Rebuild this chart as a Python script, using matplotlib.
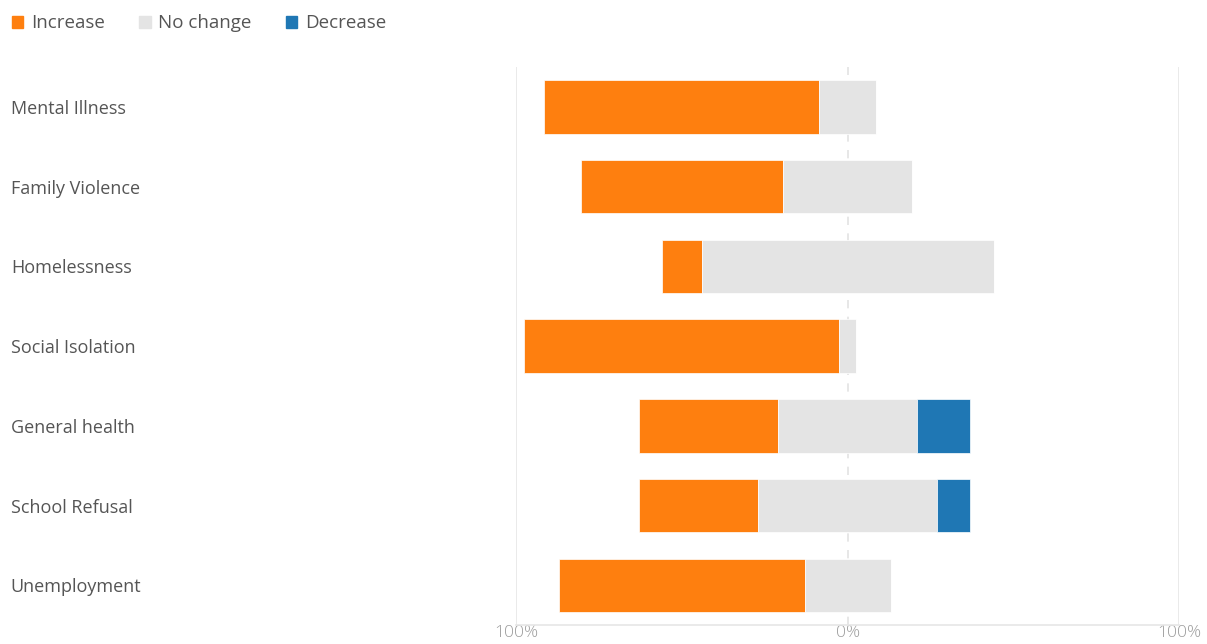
import matplotlib.pyplot as plt
import matplotlib.transforms as mtransforms
from matplotlib.patches import Patch
import numpy as np

plt.rcParams['font.family'] = ['Open Sans', 'DejaVu Sans']

# survey answers, percent of respondents
categories = ['Mental Illness', 'Family Violence', 'Homelessness', 'Social Isolation',
              'General health', 'School Refusal', 'Unemployment']
increase = [83, 61, 12, 95, 42, 36, 74]
no_change = [17, 39, 88, 5, 42, 54, 26]
decrease = [0, 0, 0, 0, 16, 10, 0]

c_inc = '#fe7f0f'
c_nc = '#e4e4e4'
c_dec = '#1f77b4'

fig = plt.figure(figsize=(12.07, 6.44), dpi=100)
ax = fig.add_axes([0.4275, 0.029, 0.5495, 0.867])

y = np.arange(len(categories))
inc = np.array(increase)
nc = np.array(no_change)
dec = np.array(decrease)

# centre the "no change" block on zero, increase to the left, decrease to the right
left_inc = -(inc + nc / 2)
ax.barh(y, inc, left=left_inc, height=0.67, color=c_inc, edgecolor='#ffffff', linewidth=0.5, zorder=3)
ax.barh(y, nc, left=-nc / 2, height=0.67, color=c_nc, edgecolor='#ffffff', linewidth=0.5, zorder=3)
ax.barh(y, dec, left=nc / 2, height=0.67, color=c_dec, edgecolor='#ffffff', linewidth=0.5, zorder=3)

ax.set_xlim(-100, 100)
ax.set_ylim(len(categories) - 0.5, -0.5)

# gridlines
ax.axvline(-100, color='#e6e6e6', lw=1.2, zorder=1)
ax.axvline(100, color='#e6e6e6', lw=1.2, zorder=1)
ax.axvline(0, color='#e3e3e3', lw=1.2, ls=(0, (5, 5)), zorder=1)

for s in ['top', 'right', 'left']:
    ax.spines[s].set_visible(False)
ax.spines['bottom'].set_color('#e6e6e6')
ax.spines['bottom'].set_linewidth(1.2)

ax.set_xticks([-100, 0, 100])
ax.set_xticklabels(['100%', '0%', '100%'], fontsize=12.5, color='#9c9c9c', fontweight='light')
ax.tick_params(axis='x', length=0, pad=0)
ax.set_yticks([])

# category names, left aligned at the figure edge
trans = mtransforms.blended_transform_factory(fig.transFigure, ax.transData)
for i, name in enumerate(categories):
    ax.text(0.009, i, name, transform=trans, ha='left', va='center_baseline',
            fontsize=13, color='#555555')

handles = [Patch(color=c_inc, label='Increase'),
           Patch(color=c_nc, label='No change'),
           Patch(color=c_dec, label='Decrease')]
fig.legend(handles=handles, loc='upper left', bbox_to_anchor=(-0.004, 1.004), ncol=3,
           frameon=False, fontsize=13.5, labelcolor='#555555',
           handlelength=0.6, handleheight=0.6, handletextpad=0.4, columnspacing=1.85)

fig.savefig('out.png', dpi=100)
